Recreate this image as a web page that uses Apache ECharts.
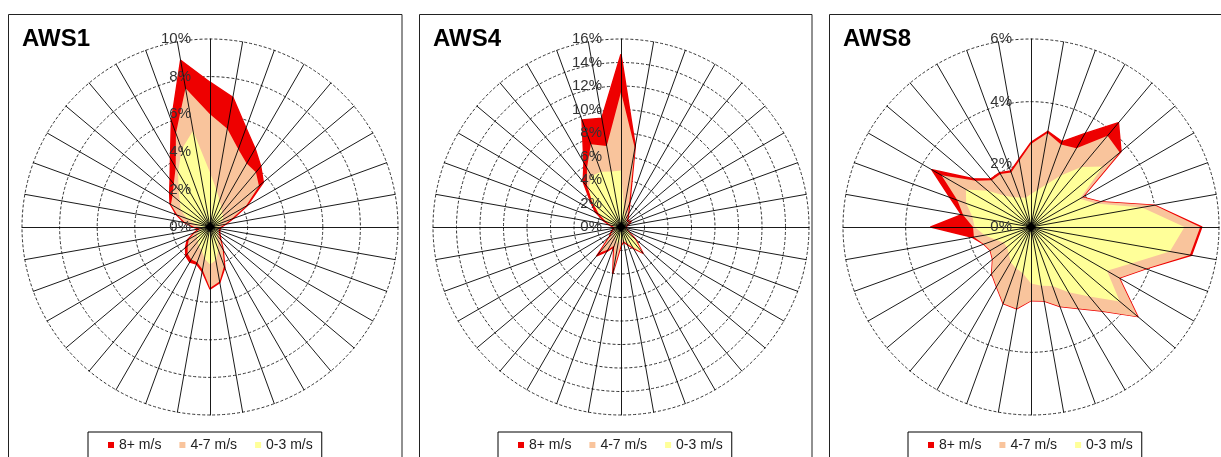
<!DOCTYPE html>
<html>
<head>
<meta charset="utf-8">
<script src="https://cdn.jsdelivr.net/npm/echarts@6/dist/echarts.min.js"></script>
<style>
html,body{margin:0;padding:0;background:#fff;}
#chart{width:1221px;height:457px;}
</style>
</head>
<body>
<div id="chart"></div>
<script>
// Wind directions (compass degrees, clockwise from north)
const directions = [0,10,20,30,40,50,60,70,80,90,100,110,120,130,140,150,160,170,
                    180,190,200,210,220,230,240,250,260,270,280,290,300,310,320,330,340,350];
const speedClasses = ['8+ m/s', '4-7 m/s', '0-3 m/s'];
const stationNames = ['AWS1', 'AWS4', 'AWS8'];
const axisMax = [10, 16, 6];
const tickStep = 2;

// Cumulative frequency (%) per direction: 8+ = all speeds, 4-7 = up to 7 m/s, 0-3 = up to 3 m/s
const aws1_8plus = [7.7,7.0,5.6,4.8,4.2,3.7,2.3,1.3,0.85,0.6,0.55,0.55,0.6,0.7,0.9,1.4,2.3,3.0,
                    3.3,2.4,2.1,2.15,2.0,1.7,1.4,0.9,0.6,0.9,1.4,1.9,2.45,2.8,3.3,4.2,6.0,9.0];
const aws1_4to7  = [6.0,5.3,4.4,3.9,3.8,3.4,2.2,1.2,0.8,0.55,0.5,0.5,0.55,0.65,0.85,1.35,2.2,2.95,
                    3.25,2.3,2.0,2.0,1.85,1.55,1.3,0.85,0.55,0.85,1.35,1.85,2.4,2.6,3.0,3.65,5.3,7.5];
const aws1_0to3  = [2.9,2.0,1.5,1.2,1.0,0.9,0.8,0.6,0.5,0.4,0.4,0.4,0.45,0.5,0.6,0.8,1.3,1.8,
                    2.0,1.7,1.3,1.2,1.0,0.9,0.8,0.6,0.4,0.5,0.8,1.3,1.8,2.1,2.6,3.4,4.4,5.2];

const aws4_8plus = [14.7,7.0,2.2,1.3,0.9,0.8,1.0,0.7,0.5,0.4,0.4,0.5,0.7,1.6,2.9,2.1,1.6,1.3,
                    1.6,4.0,1.8,2.4,3.2,1.3,1.0,0.8,0.6,0.7,1.0,1.6,2.5,3.4,5.0,6.3,9.7,9.4];
const aws4_4to7  = [11.5,6.8,2.0,1.2,0.8,0.7,0.9,0.6,0.45,0.4,0.4,0.5,0.65,1.55,2.85,2.05,1.55,1.25,
                    1.5,3.9,1.7,2.2,2.9,1.2,0.9,0.7,0.55,0.6,0.9,1.4,2.2,3.0,4.5,5.8,7.5,7.0];
const aws4_0to3  = [4.8,1.5,1.0,0.8,0.6,0.5,0.5,0.4,0.4,0.35,0.4,0.45,0.6,1.4,2.8,1.9,1.4,1.1,
                    1.0,1.5,1.2,1.0,0.9,0.7,0.6,0.5,0.45,0.5,0.8,1.3,2.0,3.2,4.3,5.0,5.0,4.8];

const aws8_8plus = [2.7,3.1,2.9,3.45,4.34,3.75,1.9,2.35,4.0,5.45,5.2,3.9,3.25,4.45,3.5,3.0,2.7,2.4,
                    2.35,2.65,2.6,2.2,1.95,1.6,1.5,1.6,1.9,3.2,2.25,2.75,3.65,2.4,2.0,2.0,1.9,2.2];
const aws8_4to7  = [2.65,3.05,2.8,2.9,3.8,3.7,1.9,2.35,4.0,5.4,5.15,3.9,3.25,4.45,3.5,3.0,2.7,2.4,
                    2.35,2.65,2.6,2.2,1.95,1.6,1.5,1.6,1.85,1.85,2.2,2.5,3.3,2.3,1.95,1.95,1.85,2.15];
const aws8_0to3  = [1.05,1.2,1.45,1.9,2.5,3.0,1.8,2.2,3.6,4.9,4.5,3.4,2.8,3.7,2.9,2.4,2.0,1.9,
                    1.8,1.5,1.4,1.3,1.1,1.0,1.0,1.2,1.5,1.8,1.9,2.2,2.4,1.8,1.3,1.1,1.0,0.95];

const stationData = [
  [aws1_8plus, aws1_4to7, aws1_0to3],
  [aws4_8plus, aws4_4to7, aws4_0to3],
  [aws8_8plus, aws8_4to7, aws8_0to3]
];

// ---- presentation ----
const COLORS = ['#ee0000', '#f9c49c', '#ffff99'];
const FONT = 'Liberation Sans, Arial, sans-serif';
const centers = [[210, 227], [621, 227], [1031, 227]];
const RADIUS = 188;
const panels = [[8.5, 402], [419.5, 812], [829.5, 1222]];
const legendLeft = [88, 498, 908];

// ECharts radar lays indicators counter-clockwise; reorder compass data to match
function toRadarOrder(arr) {
  return directions.map((_, i) => arr[(directions.length - i) % directions.length]);
}

const radars = [], series = [], titles = [], legends = [], graphics = [];
stationNames.forEach((name, p) => {
  const base = {
    center: centers[p], radius: RADIUS, startAngle: 90, shape: 'circle',
    splitNumber: axisMax[p] / tickStep,
    axisName: {show: false}, nameGap: 0, splitArea: {show: false}
  };
  // rings (behind the data)
  radars.push(Object.assign({}, base, {
    z: 0,
    indicator: directions.map(() => ({min: 0, max: axisMax[p]})),
    axisLine: {show: false},
    axisLabel: {show: false},
    splitLine: {show: true, lineStyle: {color: '#333', width: 1, type: [3, 2]}}
  }));
  // spokes and labels (on top of the data)
  radars.push(Object.assign({}, base, {
    z: 5,
    indicator: directions.map((d, i) => i === 0
      ? {min: 0, max: axisMax[p],
         axisLine: {symbol: ['diamond', 'none'], symbolSize: [10, 10]},
         axisLabel: {show: true, formatter: '{value}%', fontSize: 15,
          color: '#333', fontFamily: FONT, margin: 19}}
      : {min: 0, max: axisMax[p]}),
    axisLine: {show: true, lineStyle: {color: '#000', width: 0.9}},
    axisLabel: {show: false},
    splitLine: {show: false}
  }));
  series.push({
    type: 'radar', radarIndex: 2 * p, symbol: 'none', z: 2, silent: true,
    data: stationData[p].map((vals, k) => ({
      name: speedClasses[k],
      value: toRadarOrder(vals),
      itemStyle: {color: COLORS[k]},
      lineStyle: k === 0 ? {color: COLORS[k], width: 1.5} : {width: 0, opacity: 0},
      areaStyle: {color: COLORS[k], opacity: 1}
    }))
  });
  titles.push({
    text: name, left: panels[p][0] + 13.5, top: 27, padding: 0,
    textStyle: {fontSize: 24, fontWeight: 'bold', color: '#000', fontFamily: FONT}
  });
  legends.push({
    data: speedClasses, left: legendLeft[p], top: 432, orient: 'horizontal',
    icon: 'rect', itemWidth: 6, itemHeight: 6, itemGap: 18,
    padding: [6, 9, 20, 20], borderColor: '#000', borderWidth: 1,
    textStyle: {fontSize: 14, color: '#222', fontFamily: FONT},
    selectedMode: false
  });
  graphics.push({
    type: 'rect', silent: true,
    shape: {x: panels[p][0], y: 14.5, width: panels[p][1] - panels[p][0], height: 460},
    style: {fill: 'none', stroke: '#222', lineWidth: 1}, z: -1
  });
});

const chart = echarts.init(document.getElementById('chart'), null, {renderer: 'canvas'});
chart.setOption({
  animation: false,
  backgroundColor: '#fff',
  title: titles,
  legend: legends,
  radar: radars,
  series: series,
  graphic: graphics
});
</script>
</body>
</html>
